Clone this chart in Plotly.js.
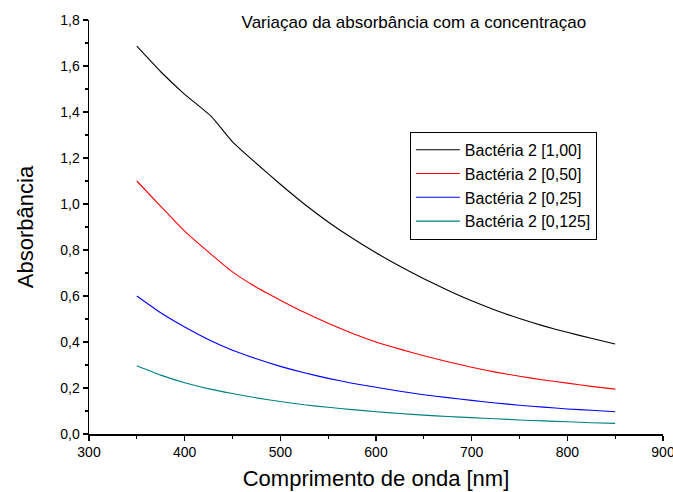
<!DOCTYPE html>
<html>
<head>
<meta charset="utf-8">
<script src="https://cdn.plot.ly/plotly-3.0.1.min.js"></script>
<style>html,body{margin:0;padding:0;background:#fff;}#chart{width:673px;height:492px;}</style>
</head>
<body>
<div id="chart"></div>
<script>
const wavelength = [350,375,400,428,450,475,500,525,550,575,600,625,650,675,700,725,750,775,800,825,850];
const bact100 = [1.686,1.575,1.477,1.38,1.27,1.176,1.086,1.0,0.922,0.852,0.788,0.729,0.675,0.625,0.579,0.538,0.502,0.470,0.442,0.416,0.391];
const bact050 = [1.10,0.99,0.882,0.78,0.705,0.638,0.582,0.529,0.481,0.438,0.40,0.369,0.34,0.314,0.290,0.269,0.251,0.235,0.221,0.207,0.195];
const bact025 = [0.60,0.527,0.465,0.404,0.364,0.327,0.294,0.266,0.242,0.221,0.203,0.186,0.171,0.158,0.146,0.135,0.125,0.117,0.109,0.103,0.097];
const bact0125 = [0.297,0.256,0.223,0.194,0.176,0.157,0.141,0.127,0.116,0.106,0.097,0.089,0.082,0.076,0.071,0.066,0.061,0.057,0.053,0.049,0.046];
const names = ['Bactéria 2 [1,00]','Bactéria 2 [0,50]','Bactéria 2 [0,25]','Bactéria 2 [0,125]'];
const colors = ['#000000','#ff0000','#0000ff','#008080'];
const series = [bact100, bact050, bact025, bact0125];

const traces = series.map((s,i)=>({
  x: wavelength, y: s, type:'scatter', mode:'lines', name: names[i],
  line:{color:colors[i], width:1.1, shape:'spline', smoothing:0.5}
}));

const font = {family:'"Liberation Sans", Arial, sans-serif', color:'#000'};
const layout = {
  width:673, height:492,
  margin:{l:89, r:10, t:20, b:58},
  paper_bgcolor:'#fff', plot_bgcolor:'#fff',
  separators:',.',
  font: Object.assign({size:14}, font),
  showlegend:true,
  title:{text:'Variaçao da absorbância com a concentraçao', font:Object.assign({size:17}, font),
    xref:'container', x:0.615, xanchor:'center', yref:'container', y:0.955, yanchor:'middle'},
  xaxis:{range:[300,900], dtick:100, tick0:300, showgrid:false, zeroline:false,
    showline:true, linecolor:'#000', linewidth:1.5, ticks:'outside', ticklen:5, tickwidth:1.5, tickcolor:'#000',
    minor:{dtick:50, ticks:'outside', ticklen:3, tickwidth:1.2, tickcolor:'#000', showgrid:false},
    ticklabeloverflow:'allow',
    tickfont:Object.assign({size:14}, font),
    title:{text:'Comprimento de onda [nm]', font:Object.assign({size:22}, font), standoff:11}},
  yaxis:{range:[0,1.8], dtick:0.2, tick0:0, tickformat:'.1f', showgrid:false, zeroline:false,
    showline:true, linecolor:'#000', linewidth:1.5, ticks:'outside', ticklen:5, tickwidth:1.5, tickcolor:'#000',
    minor:{dtick:0.1, ticks:'outside', ticklen:3, tickwidth:1.2, tickcolor:'#000', showgrid:false},
    tickfont:Object.assign({size:14}, font),
    title:{text:'Absorbância', font:Object.assign({size:22}, font), standoff:20}},
  legend:{x:0.559, y:0.73, xanchor:'left', yanchor:'top', bordercolor:'#000', borderwidth:1,
    bgcolor:'#fff', font:Object.assign({size:16}, font), tracegroupgap:0, itemwidth:44}
};
Plotly.newPlot('chart', traces, layout, {displayModeBar:false, staticPlot:true});
</script>
</body>
</html>
